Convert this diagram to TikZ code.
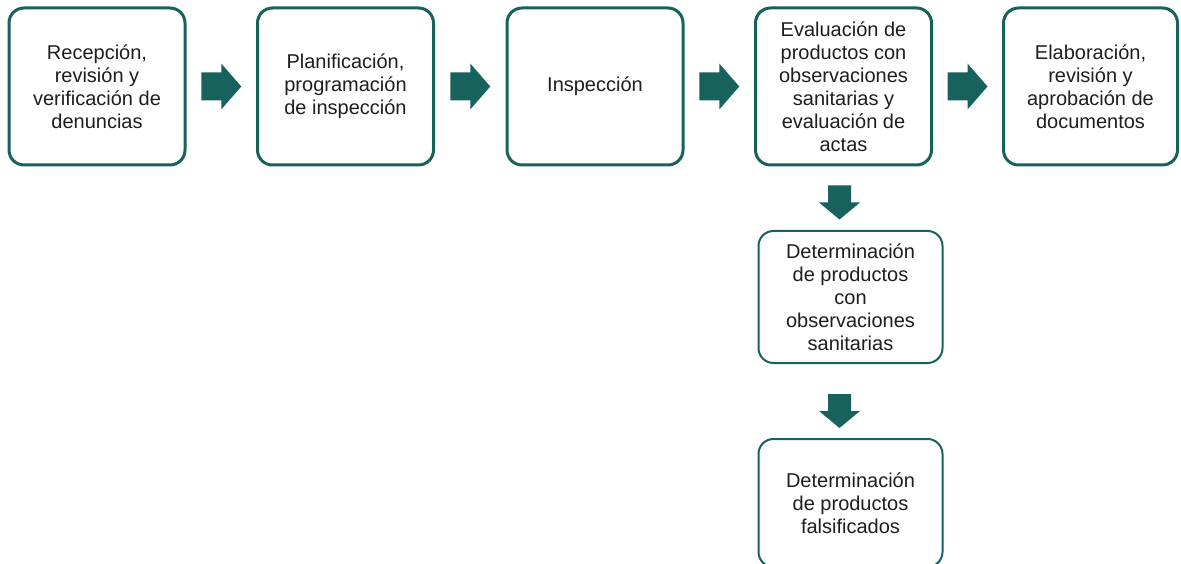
\documentclass[tikz,border=0pt]{standalone}
\usepackage{fontspec}
\setmainfont{Liberation Sans}
\usetikzlibrary{calc}
\definecolor{teal}{RGB}{24,98,93}
\definecolor{ink}{RGB}{30,30,30}
\tikzset{
  stagebox/.style={draw=teal, line width=3pt, rounded corners=15pt, fill=white,
    align=center, text=ink, inner sep=0pt, minimum width=176pt, minimum height=157pt,
    font=\fontsize{20}{23}\selectfont},
  subbox/.style={stagebox, line width=2pt, minimum width=184pt},
  arrowfill/.style={fill=teal}
}
% right-pointing block arrow centred on #1
\newcommand{\rarrow}[1]{\fill[arrowfill] (#1) ++(-20,-14) -- ++(20,0) -- ++(0,-9) -- ++(20,23) -- ++(-20,23) -- ++(0,-9) -- ++(-20,0) -- cycle;}
% down-pointing block arrow centred on #1
\newcommand{\darrow}[1]{\fill[arrowfill] (#1) ++(-11.5,-17) -- ++(23,0) -- ++(0,17) -- ++(9,0) -- ++(-20.5,17) -- ++(-20.5,-17) -- ++(9,0) -- cycle;}
\begin{document}
\begin{tikzpicture}[x=1pt,y=-1pt]
\clip (0,0) rectangle (1181,564);
\fill[white] (0,0) rectangle (1181,564);

\node[stagebox] (b1) at (97,86.5) {Recepción,\\revisión y\\verificación de\\denuncias};
\node[stagebox] (b2) at (345.5,86.5) {Planificación,\\programación\\de inspección};
\node[stagebox] (b3) at (595,86.5) {Inspección};
\node[stagebox] (b4) at (843.5,86.5) {Evaluación de\\productos con\\observaciones\\sanitarias y\\evaluación de\\actas};
\node[stagebox, minimum width=174pt] (b5) at (1090.5,86.5) {Elaboración,\\revisión y\\aprobación de\\documentos};
\node[subbox, minimum height=132pt] (b6) at (850.5,297) {Determinación\\de productos\\con\\observaciones\\sanitarias};
\node[subbox, minimum height=128pt] (b7) at (850.5,503) {Determinación\\de productos\\falsificados};

% connectors between the stages
\coordinate (a1) at ($(b1.east)!0.5!(b2.west)$);
\coordinate (a2) at ($(b2.east)!0.5!(b3.west)$);
\coordinate (a3) at ($(b3.east)!0.5!(b4.west)$);
\coordinate (a4) at ($(b4.east)!0.5!(b5.west)$);
\rarrow{a1}
\rarrow{a2}
\rarrow{a3}
\rarrow{a4}
\coordinate (d1) at ($(b4.south)+(-4,36)$);
\coordinate (d2) at ($(b6.south)+(-11,47)$);
\darrow{d1}
\darrow{d2}
\end{tikzpicture}
\end{document}
